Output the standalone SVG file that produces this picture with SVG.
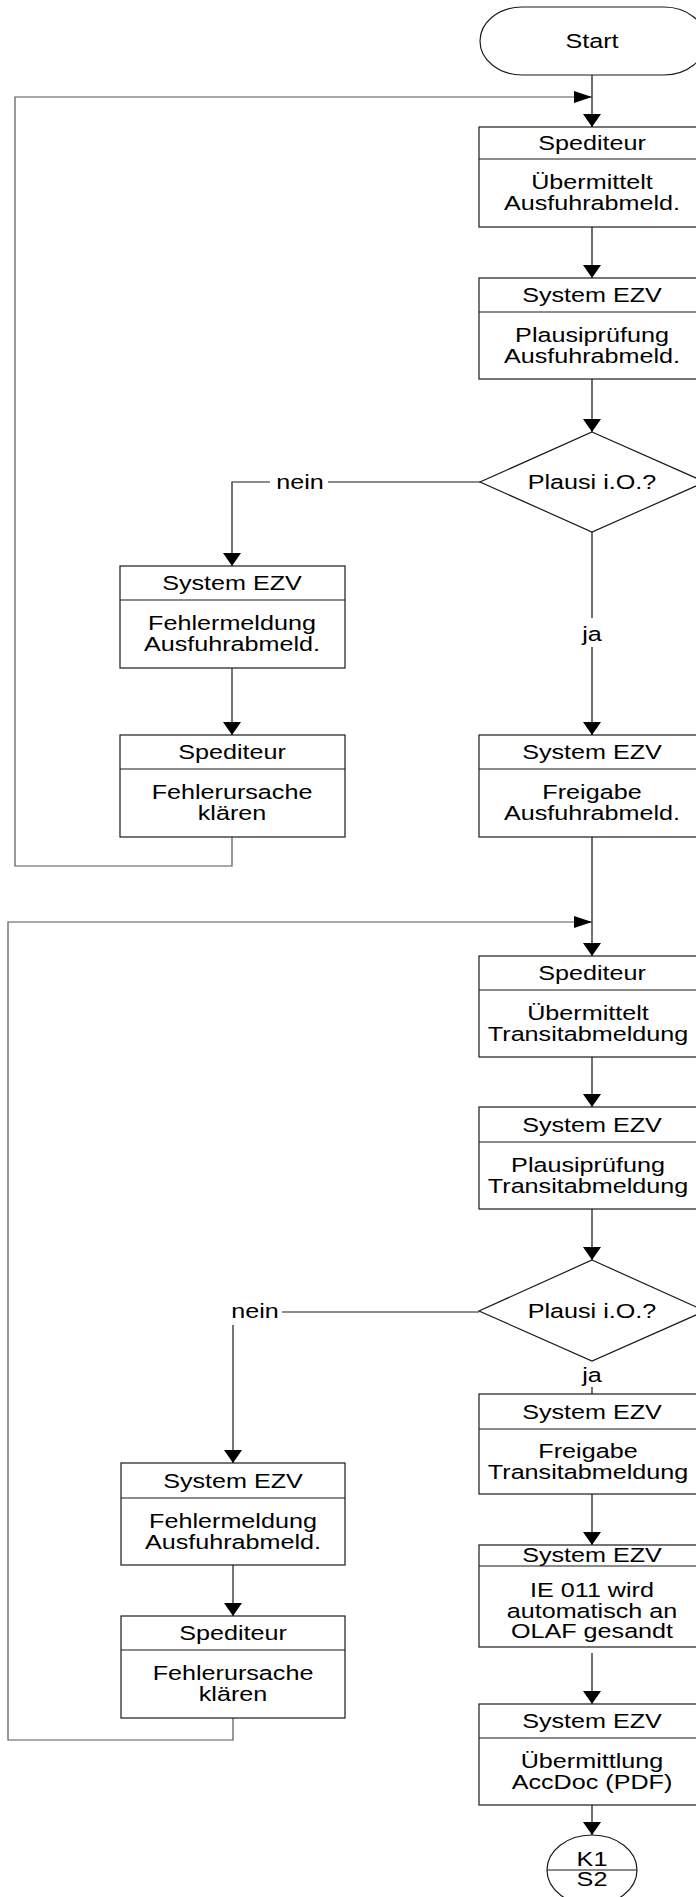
<svg xmlns="http://www.w3.org/2000/svg" width="696" height="1897" viewBox="0 0 696 1897">
<style>
.b{fill:#fff;stroke:#1a1a1a;stroke-width:1.2}
.l{fill:none;stroke:#1a1a1a;stroke-width:1.2}
.c{fill:none;stroke:#111;stroke-width:1.2}
.g{fill:none;stroke:#555;stroke-width:1.2}
text{font-family:"Liberation Sans",Arial,sans-serif;font-size:19.5px;text-anchor:middle;fill:#000}
</style>
<defs>
<marker id="ad" markerUnits="userSpaceOnUse" markerWidth="13" markerHeight="18" refX="13" refY="9" orient="auto" overflow="visible"><path d="M0,0 L13,9 L0,18 z" fill="#000"/></marker>
<marker id="ar" markerUnits="userSpaceOnUse" markerWidth="18" markerHeight="12" refX="18" refY="6" orient="auto" overflow="visible"><path d="M0,0 L18,6 L0,12 z" fill="#000"/></marker>
</defs>
<rect width="696" height="1897" fill="#fff"/>
<g id="connectors">
<path class="c" d="M592,75 V127" marker-end="url(#ad)"/>
<path class="c" d="M592,227 V278" marker-end="url(#ad)"/>
<path class="c" d="M592,379 V432" marker-end="url(#ad)"/>
<path class="l" d="M480,482 H328"/>
<path class="l" d="M270,482 H232 V566" marker-end="url(#ad)"/>
<path class="l" d="M232,668 V735" marker-end="url(#ad)"/>
<path class="g" d="M232,837 V866 H15 V97 H592" marker-end="url(#ar)"/>
<path class="c" d="M592,532 V618"/>
<path class="c" d="M592,647 V735" marker-end="url(#ad)"/>
<path class="c" d="M592,837 V956" marker-end="url(#ad)"/>
<path class="g" d="M233,1718 V1740 H8 V922 H592" marker-end="url(#ar)"/>
<path class="c" d="M592,1057 V1107" marker-end="url(#ad)"/>
<path class="c" d="M592,1209 V1260" marker-end="url(#ad)"/>
<path class="l" d="M479,1312 H282"/>
<path class="l" d="M233,1325 V1463" marker-end="url(#ad)"/>
<path class="l" d="M233,1565 V1616" marker-end="url(#ad)"/>
<path class="c" d="M592,1387 V1394"/>
<path class="c" d="M592,1494 V1545" marker-end="url(#ad)"/>
<path class="c" d="M592,1653 V1704" marker-end="url(#ad)"/>
<path class="c" d="M592,1805 V1835" marker-end="url(#ad)"/>
<text transform="translate(300,489) scale(1.29,1)">nein</text>
<text transform="translate(592,641) scale(1.29,1)">ja</text>
<text transform="translate(255,1318) scale(1.29,1)">nein</text>
<text transform="translate(592,1382) scale(1.29,1)">ja</text>
</g>
<g id="start">
<rect class="b" x="480" y="7" width="226" height="68" rx="42" ry="34"/>
<text transform="translate(592,48) scale(1.29,1)">Start</text>
</g>
<g id="n1">
<rect class="b" x="479" y="127" width="228" height="100"/>
<path class="l" d="M479,159 H707"/>
<text transform="translate(592,150) scale(1.29,1)">Spediteur</text>
<text transform="translate(592,189) scale(1.29,1)">Übermittelt</text>
<text transform="translate(592,210) scale(1.29,1)">Ausfuhrabmeld.</text>
</g>
<g id="n2">
<rect class="b" x="479" y="278" width="228" height="101"/>
<path class="l" d="M479,312 H707"/>
<text transform="translate(592,302) scale(1.29,1)">System EZV</text>
<text transform="translate(592,342) scale(1.29,1)">Plausiprüfung</text>
<text transform="translate(592,363) scale(1.29,1)">Ausfuhrabmeld.</text>
</g>
<g id="d1">
<path class="b" d="M592,432 L705,482 L592,532 L480,482 z"/>
<text transform="translate(592,489) scale(1.29,1)">Plausi i.O.?</text>
</g>
<g id="n3">
<rect class="b" x="120" y="566" width="225" height="102"/>
<path class="l" d="M120,600 H345"/>
<text transform="translate(232,590) scale(1.29,1)">System EZV</text>
<text transform="translate(232,630) scale(1.29,1)">Fehlermeldung</text>
<text transform="translate(232,651) scale(1.29,1)">Ausfuhrabmeld.</text>
</g>
<g id="n4">
<rect class="b" x="120" y="735" width="225" height="102"/>
<path class="l" d="M120,769 H345"/>
<text transform="translate(232,759) scale(1.29,1)">Spediteur</text>
<text transform="translate(232,799) scale(1.29,1)">Fehlerursache</text>
<text transform="translate(232,820) scale(1.29,1)">klären</text>
</g>
<g id="n5">
<rect class="b" x="479" y="735" width="228" height="102"/>
<path class="l" d="M479,769 H707"/>
<text transform="translate(592,759) scale(1.29,1)">System EZV</text>
<text transform="translate(592,799) scale(1.29,1)">Freigabe</text>
<text transform="translate(592,820) scale(1.29,1)">Ausfuhrabmeld.</text>
</g>
<g id="n6">
<rect class="b" x="479" y="956" width="228" height="101"/>
<path class="l" d="M479,990 H707"/>
<text transform="translate(592,980) scale(1.29,1)">Spediteur</text>
<text transform="translate(588,1020) scale(1.29,1)">Übermittelt</text>
<text transform="translate(588,1041) scale(1.29,1)">Transitabmeldung</text>
</g>
<g id="n7">
<rect class="b" x="479" y="1107" width="228" height="102"/>
<path class="l" d="M479,1142 H707"/>
<text transform="translate(592,1132) scale(1.29,1)">System EZV</text>
<text transform="translate(588,1172) scale(1.29,1)">Plausiprüfung</text>
<text transform="translate(588,1193) scale(1.29,1)">Transitabmeldung</text>
</g>
<g id="d2">
<path class="b" d="M592,1260 L705,1311 L592,1361 L479,1311 z"/>
<text transform="translate(592,1318) scale(1.29,1)">Plausi i.O.?</text>
</g>
<g id="n8">
<rect class="b" x="479" y="1394" width="228" height="100"/>
<path class="l" d="M479,1429 H707"/>
<text transform="translate(592,1419) scale(1.29,1)">System EZV</text>
<text transform="translate(588,1458) scale(1.29,1)">Freigabe</text>
<text transform="translate(588,1479) scale(1.29,1)">Transitabmeldung</text>
</g>
<g id="n9">
<rect class="b" x="479" y="1545" width="228" height="102"/>
<path class="l" d="M479,1566 H707"/>
<text transform="translate(592,1562) scale(1.29,1)">System EZV</text>
<text transform="translate(592,1597) scale(1.29,1)">IE 011 wird</text>
<text transform="translate(592,1618) scale(1.29,1)">automatisch an</text>
<text transform="translate(592,1638) scale(1.29,1)">OLAF gesandt</text>
</g>
<g id="n10">
<rect class="b" x="479" y="1704" width="228" height="101"/>
<path class="l" d="M479,1738 H707"/>
<text transform="translate(592,1728) scale(1.29,1)">System EZV</text>
<text transform="translate(592,1768) scale(1.29,1)">Übermittlung</text>
<text transform="translate(592,1789) scale(1.29,1)">AccDoc (PDF)</text>
</g>
<g id="n11">
<rect class="b" x="121" y="1463" width="224" height="102"/>
<path class="l" d="M121,1498 H345"/>
<text transform="translate(233,1488) scale(1.29,1)">System EZV</text>
<text transform="translate(233,1528) scale(1.29,1)">Fehlermeldung</text>
<text transform="translate(233,1549) scale(1.29,1)">Ausfuhrabmeld.</text>
</g>
<g id="n12">
<rect class="b" x="121" y="1616" width="224" height="102"/>
<path class="l" d="M121,1650 H345"/>
<text transform="translate(233,1640) scale(1.29,1)">Spediteur</text>
<text transform="translate(233,1680) scale(1.29,1)">Fehlerursache</text>
<text transform="translate(233,1701) scale(1.29,1)">klären</text>
</g>
<g id="k1">
<ellipse class="b" cx="592" cy="1870" rx="45" ry="35"/>
<path class="l" d="M547,1870 H637"/>
<text transform="translate(592,1866) scale(1.29,1)">K1</text>
<text transform="translate(592,1886) scale(1.29,1)">S2</text>
</g>
</svg>
